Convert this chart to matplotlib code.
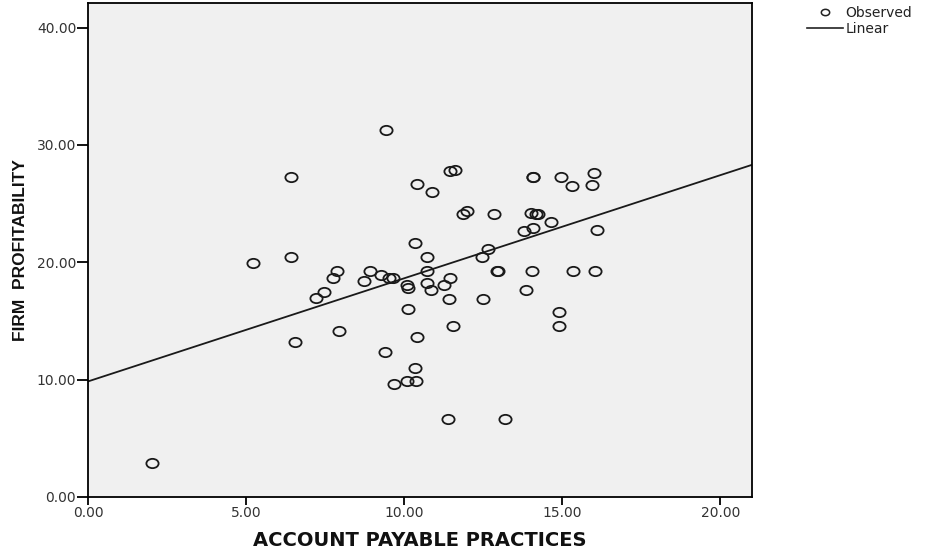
import numpy as np
import matplotlib
matplotlib.use("Agg")
import matplotlib.pyplot as plt
from matplotlib.path import Path
from matplotlib.lines import Line2D
from matplotlib.ticker import FormatStrFormatter

# ---- data ----
account_payable = [2.03, 5.21, 6.43, 6.41, 6.56, 7.22, 7.46, 7.74, 7.88, 7.93,
                   8.74, 8.93, 9.28, 9.43, 9.38, 9.51, 9.64, 9.68, 10.09, 10.11,
                   10.11, 10.09, 10.37, 10.33, 10.41, 10.33, 10.41, 10.73, 10.73, 10.73,
                   10.84, 10.88, 11.27, 11.42, 11.46, 11.46, 11.61, 11.53, 11.38, 11.87,
                   11.98, 12.66, 12.47, 12.49, 12.84, 12.94, 12.98, 13.20, 13.80, 13.84,
                   14.01, 14.06, 14.08, 14.08, 14.03, 14.18, 14.23, 14.64, 14.89, 14.89,
                   14.96, 15.32, 15.34, 15.94, 16.01, 16.03, 16.09]
firm_profitability = [2.88, 19.94, 27.24, 20.42, 13.18, 17.00, 17.45, 18.65, 19.28, 14.14,
                      18.38, 19.28, 18.92, 31.29, 12.37, 18.68, 18.68, 9.61, 18.08, 17.84,
                      15.98, 9.91, 9.91, 21.62, 26.67, 10.96, 13.66, 20.42, 19.28, 18.26,
                      17.63, 25.98, 18.05, 16.91, 18.68, 27.78, 27.84, 14.59, 6.61, 24.11,
                      24.41, 21.17, 20.42, 16.91, 24.14, 19.28, 19.28, 6.61, 22.67, 17.66,
                      24.20, 27.30, 27.30, 22.91, 19.28, 24.14, 24.14, 23.42, 15.77, 14.56,
                      27.30, 26.49, 19.28, 26.58, 27.57, 19.28, 22.76]
fit_intercept = 9.85
fit_slope = 0.879
x_ticks = [0, 5, 10, 15, 20]
y_ticks = [0, 10, 20, 30, 40]
x_label = "ACCOUNT PAYABLE PRACTICES"
y_label = "FIRM  PROFITABILITY"
legend_labels = ["Observed", "Linear"]

plt.rcParams['font.family'] = ['DejaVu Sans']

W, H = 927, 552
fig = plt.figure(figsize=(W / 100, H / 100), dpi=100)
ax = fig.add_axes([88 / W, 1 - 497 / H, (752 - 88) / W, (497 - 3) / H])
ax.set_facecolor('#f0f0f0')

# elliptical open-circle marker (image is horizontally stretched)
circ = Path.unit_circle()
ell = Path(circ.vertices * np.array([1.0, 0.76]), circ.codes)

ax.plot(account_payable, firm_profitability, linestyle='none', marker=ell,
        markersize=8.8, markerfacecolor='none', markeredgecolor='#1a1a1a',
        markeredgewidth=1.3, zorder=3)

xs = np.array([0, 21.0])
ax.plot(xs, fit_intercept + fit_slope * xs, color='#1a1a1a', lw=1.3, zorder=2)

ax.set_xlim(0, 21)
ax.set_ylim(0, 42.1)
ax.set_xticks(x_ticks)
ax.set_yticks(y_ticks)
ax.xaxis.set_major_formatter(FormatStrFormatter('%.2f'))
ax.yaxis.set_major_formatter(FormatStrFormatter('%.2f'))
ax.tick_params(axis='x', length=5.5, width=1.3, color='black', labelsize=10,
               labelcolor='#333333', pad=1)
ax.tick_params(axis='y', length=8, width=1.3, color='black', labelsize=10,
               labelcolor='#333333', pad=0.5)
for s in ax.spines.values():
    s.set_linewidth(1.3)
    s.set_color('black')

ax.set_xlabel(x_label, fontsize=14, fontweight='bold', labelpad=8,
              color='#111111')
ax.set_ylabel(y_label, fontsize=12.5, fontweight='bold', labelpad=6,
              family='Liberation Sans', color='#111111')

handles = [Line2D([], [], linestyle='none', marker=ell, markersize=6,
                  markerfacecolor='none', markeredgecolor='#222222',
                  markeredgewidth=1.1),
           Line2D([], [], color='#222222', lw=1.2)]
fig.legend(handles, legend_labels, loc='upper left',
           bbox_to_anchor=(801 / W, 1 - 0 / H), frameon=False, fontsize=10,
           handlelength=2.6, handletextpad=0.2, labelspacing=0.2,
           borderaxespad=0, labelcolor='#222222')

fig.savefig('out.png', dpi=100)
